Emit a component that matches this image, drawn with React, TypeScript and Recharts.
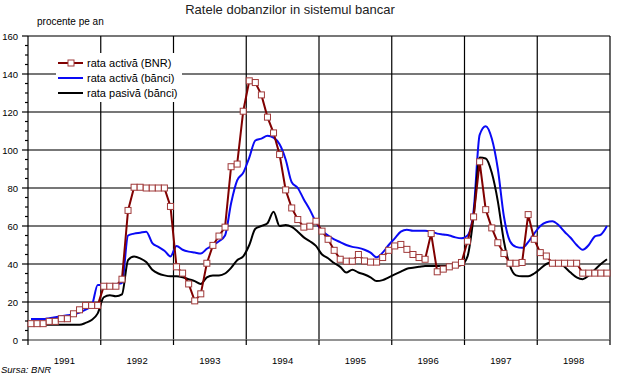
import { LineChart, Line, XAxis, YAxis, ReferenceLine, Legend } from "recharts"

const years = ["1991", "1992", "1993", "1994", "1995", "1996", "1997", "1998"]

// monthly values, Jan 1991 .. Dec 1998
const rataActivaBNR = [
  8.6, 8.6, 8.6, 9.8, 9.8, 11.2, 11.2, 13.8, 15.9, 18.2, 18.2, 18.2,
  28.3, 28.3, 28.3, 32, 68.2, 80.4, 80.4, 80, 80, 80, 80, 70.3,
  38.5, 35.2, 29.5, 20.6, 24.3, 40.4, 49.8, 54.7, 59.4, 91.2, 92.6, 120.4,
  136.4, 135.5, 129, 117.3, 109, 97.6, 79, 69.5, 63.4, 59.4, 59.9, 62.5,
  57.3, 53, 47.2, 42.5, 41.5, 41.5, 45, 41.6, 41, 41, 43.4, 47.2,
  49.5, 50.3, 47.7, 45, 43.4, 42.5, 56, 35.9, 37.3, 38.5, 39.4, 40.8,
  52, 64.8, 93.8, 68.6, 59, 51.2, 45.5, 40.4, 40.4, 40.8, 66, 53,
  46, 44.2, 40.4, 40.4, 40.4, 40.4, 40.4, 35.2, 35.2, 35.2, 35.2, 35.2,
]

const rataActivaBanci = [
  11, 11, 11, 11.5, 12, 12.5, 13, 13.5, 14.5, 16, 18, 29,
  29, 29, 29.5, 30, 55, 56, 56.5, 57, 51, 49, 47, 44,
  49.5, 47.5, 46.5, 46, 45.5, 48, 50, 52, 55, 72, 84, 88,
  96, 105, 106, 107.5, 106.5, 103, 95, 83, 80, 74, 68.5, 62,
  57.5, 55, 53, 51.5, 50, 49, 48.5, 47.5, 46, 43.5, 46, 50,
  53.5, 57, 58, 57.5, 57.5, 57.5, 57, 56, 55.5, 55, 54, 53.5,
  55, 68, 108, 112.5, 106, 90, 65, 52, 49, 48.5, 51.5, 56,
  60, 62, 62.5, 60.5, 57, 53.8, 50, 47.5, 50, 54.5, 55.5, 60,
]

const rataPasivaBanci = [
  8, 8, 8, 8, 8, 8, 8, 8, 8, 9, 10.5, 14,
  22.5, 23.5, 23, 24, 42, 44, 43, 41, 37, 35, 34, 33.5,
  33.5, 33, 32, 31, 29.5, 33, 34, 34, 35, 38, 42, 44,
  50, 58.5, 60, 61.5, 67.5, 60, 60.5, 59.5, 57, 54, 52, 49.5,
  45, 43, 40.5, 38.5, 35.5, 37, 35.5, 34.5, 33, 31, 31.5, 33,
  34.5, 36, 37.5, 38, 38.5, 39, 39, 39, 39, 39, 39, 39.5,
  44, 65, 96, 95.5, 88, 73, 52, 39, 34, 33.5, 33.5, 35,
  37.5, 40, 41, 41, 38.5, 35.5, 33, 32, 34, 37, 40, 42.5,
]

const yMajor = [20, 40, 60, 80, 100, 120, 140, 160]

const FONT = "'Liberation Sans', Arial, sans-serif"

const data = rataActivaBNR.map((v, i) => ({
  t: i + 0.5,
  bnr: v,
  act: rataActivaBanci[i],
  pas: rataPasivaBanci[i],
}))

const xTicks = Array.from({ length: years.length * 2 + 1 }, (_, k) => k * 6)
const yTicks = Array.from({ length: 33 }, (_, k) => k * 5)
const yearBounds = Array.from({ length: years.length }, (_, k) => (k + 1) * 12)

function YearTick(props: any) {
  const { x, y, payload } = props
  const v = payload.value
  if (v % 12 === 0) {
    return <line x1={x} y1={y} x2={x} y2={y + 5} stroke="#000" strokeWidth={1.2} />
  }
  return (
    <text x={x} y={y + 24} textAnchor="middle" fontSize={9.5} fontFamily={FONT} fill="#000">
      {years[(v - 6) / 12]}
    </text>
  )
}

// short minor marks every 5, longer labelled marks every 20
function ValueTick(props: any) {
  const { x, y, payload } = props
  const v = payload.value
  const major = v % 20 === 0
  return (
    <g>
      <line x1={x - (major ? 6 : 3)} y1={y} x2={x} y2={y} stroke="#000" strokeWidth={1.2} />
      {major && (
        <text x={x - 10} y={y + 3.5} textAnchor="end" fontSize={9.5} fontFamily={FONT} fill="#000">
          {v}
        </text>
      )}
    </g>
  )
}

function SquareDot(props: any) {
  const { cx, cy, index } = props
  return (
    <rect
      key={`sq-${index}`}
      x={cx - 3}
      y={cy - 3}
      width={6}
      height={6}
      fill="#fff"
      stroke="#a03a3a"
      strokeWidth={1}
    />
  )
}

const legendOrder = ["bnr", "act", "pas"]

function LegendBox({ payload }: any) {
  const items = [...(payload || [])].sort(
    (a: any, b: any) => legendOrder.indexOf(a.dataKey) - legendOrder.indexOf(b.dataKey)
  )
  return (
    <svg width={126} height={49} style={{ display: "block", background: "#fff" }}>
      {items.map((it: any, i: number) => {
        const cy = 10 + i * 15
        return (
          <g key={it.dataKey}>
            <line x1={2} y1={cy} x2={27} y2={cy} stroke={it.color} strokeWidth={2} />
            {it.dataKey === "bnr" && (
              <rect x={12} y={cy - 3} width={6} height={6} fill="#fff" stroke="#a03a3a" />
            )}
            <text x={31} y={cy + 4} fontSize={11} fontFamily={FONT} fill="#000">
              {it.value}
            </text>
          </g>
        )
      })}
    </svg>
  )
}

export default function App() {
  return (
    <div style={{ position: "absolute", left: 0, top: 0, width: 617, height: 382, background: "#fff" }}>
      <LineChart width={617} height={382} data={data} margin={{ top: 36, right: 7, bottom: 0, left: 0 }}>
        <XAxis
          type="number"
          dataKey="t"
          domain={[0, 96]}
          ticks={xTicks}
          interval={0}
          tick={YearTick}
          tickLine={false}
          tickSize={0}
          tickMargin={0}
          height={42}
          axisLine={{ stroke: "#707070", strokeWidth: 1.5 }}
        />
        <YAxis
          type="number"
          domain={[0, 160]}
          ticks={yTicks}
          interval={0}
          tick={ValueTick}
          tickLine={false}
          tickSize={0}
          tickMargin={0}
          width={28}
          axisLine={{ stroke: "#000", strokeWidth: 1.2 }}
        />
        {yMajor.map((v) => (
          <ReferenceLine
            key={`h${v}`}
            segment={[
              { x: 0, y: v },
              { x: 96, y: v },
            ]}
            stroke="#4a4a4a"
            strokeWidth={1.3}
          />
        ))}
        {yearBounds.map((v) => (
          <ReferenceLine key={`v${v}`} x={v} stroke="#000" strokeWidth={1.2} />
        ))}
        <Line
          type="monotone"
          dataKey="act"
          name="rata activă (bănci)"
          stroke="#0a0af5"
          strokeWidth={2}
          dot={false}
          isAnimationActive={false}
        />
        <Line
          type="monotone"
          dataKey="pas"
          name="rata pasivă (bănci)"
          stroke="#000"
          strokeWidth={2}
          dot={false}
          isAnimationActive={false}
        />
        <Line
          type="linear"
          dataKey="bnr"
          name="rata activă (BNR)"
          stroke="#800000"
          strokeWidth={2}
          dot={SquareDot}
          isAnimationActive={false}
        />
        <Legend
          layout="vertical"
          align="center"
          verticalAlign="middle"
          content={LegendBox}
          wrapperStyle={{ left: 56, top: 53, width: 126, height: 49 }}
        />
      </LineChart>
      <svg
        width={617}
        height={382}
        style={{ position: "absolute", left: 0, top: 0, pointerEvents: "none" }}
      >
        <text x={290} y={14} textAnchor="middle" fontSize={13} fontFamily={FONT} fill="#222">
          Ratele dobanzilor in sistemul bancar
        </text>
        <text x={37} y={25} fontSize={10} fontFamily={FONT} fill="#000">
          procente pe an
        </text>
        <text x={1} y={373} fontSize={9.5} fontStyle="italic" fontFamily={FONT} fill="#000">
          Sursa: BNR
        </text>
      </svg>
    </div>
  )
}
